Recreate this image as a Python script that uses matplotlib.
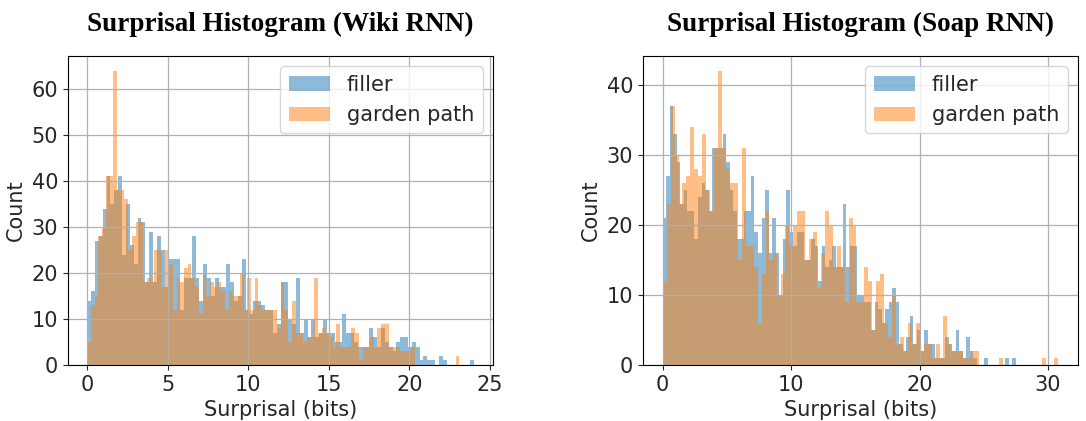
import numpy as np
import matplotlib
matplotlib.use("Agg")
import matplotlib.pyplot as plt

# bin counts (100 bins each, range 0..max)
wiki_filler_max = 24.0
wiki_filler = [
    14, 16, 27, 28, 34, 41, 35, 38, 41, 24,
    35, 26, 22, 32, 31, 18, 29, 18, 28, 25,
    17, 23, 23, 23, 12, 19, 19, 28, 19, 14,
    22, 19, 15, 19, 17, 17, 22, 18, 14, 15,
    23, 12, 11, 14, 14, 13, 12, 12, 7, 9,
    18, 18, 10, 9, 19, 7, 10, 6, 10, 6,
    7, 10, 7, 7, 5, 5, 11, 7, 7, 5,
    4, 4, 4, 8, 6, 4, 8, 5, 4, 3,
    5, 6, 6, 4, 5, 4, 1, 2, 1, 1,
    0, 2, 1, 0, 0, 0, 0, 0, 0, 1,
]
wiki_garden_max = 23.1
wiki_garden = [
    5, 13, 15, 28, 30, 41, 41, 64, 38, 38,
    36, 25, 28, 31, 31, 18, 19, 18, 25, 25,
    17, 25, 22, 12, 19, 18, 21, 22, 19, 17,
    11, 20, 15, 18, 17, 18, 16, 12, 16, 15,
    15, 20, 12, 19, 12, 19, 13, 12, 12, 12,
    12, 8, 18, 12, 5, 14, 7, 7, 5, 6,
    6, 19, 7, 8, 7, 6, 4, 9, 4, 4,
    4, 8, 7, 1, 4, 4, 6, 4, 8, 9,
    9, 4, 4, 4, 3, 3, 3, 4, 0, 0,
    0, 0, 0, 0, 0, 0, 0, 0, 0, 2,
]
soap_filler_max = 27.5
soap_filler = [
    21, 27, 37, 33, 29, 23, 25, 22, 22, 18,
    24, 26, 25, 22, 31, 31, 31, 33, 29, 25,
    22, 18, 18, 22, 22, 27, 19, 16, 21, 25,
    16, 21, 16, 10, 18, 25, 19, 17, 19, 19,
    15, 15, 18, 17, 12, 17, 14, 15, 17, 14,
    14, 23, 14, 17, 17, 10, 10, 9, 9, 5,
    9, 8, 6, 8, 9, 11, 9, 3, 2, 4,
    7, 3, 5, 2, 5, 3, 3, 1, 1, 1,
    4, 3, 2, 5, 2, 1, 4, 2, 1, 0,
    0, 1, 0, 0, 0, 0, 0, 1, 0, 1,
]
soap_garden_max = 30.8
soap_garden = [
    12, 23, 37, 30, 23, 26, 27, 34, 28, 27,
    33, 25, 22, 31, 42, 31, 28, 26, 26, 15,
    31, 17, 17, 14, 6, 13, 22, 15, 16, 10,
    13, 20, 17, 20, 22, 22, 15, 18, 19, 11,
    16, 22, 20, 14, 17, 14, 9, 21, 20, 9,
    9, 14, 12, 5, 12, 13, 6, 4, 10, 3,
    4, 2, 6, 3, 6, 2, 3, 3, 1, 3,
    1, 7, 3, 2, 2, 2, 1, 1, 2, 2,
    0, 0, 0, 0, 0, 1, 0, 0, 0, 0,
    0, 0, 0, 0, 0, 0, 1, 0, 0, 1,
]

titles = ["Surprisal Histogram (Wiki RNN)", "Surprisal Histogram (Soap RNN)"]
labels = ["filler", "garden path"]

plt.rcParams["text.color"] = "#262626"
plt.rcParams["axes.labelcolor"] = "#262626"
plt.rcParams["xtick.color"] = "#262626"
plt.rcParams["ytick.color"] = "#262626"
plt.rcParams["font.size"] = 15

fig = plt.figure(figsize=(10.86, 4.21), dpi=100)
ax1 = fig.add_axes([0.0626, 0.133, 0.3914, 0.734])
ax2 = fig.add_axes([0.592, 0.133, 0.4006, 0.734])

panels = [
    (ax1, [(wiki_filler, wiki_filler_max), (wiki_garden, wiki_garden_max)]),
    (ax2, [(soap_filler, soap_filler_max), (soap_garden, soap_garden_max)]),
]

for (ax, series), title in zip(panels, titles):
    for (counts, top), lab in zip(series, labels):
        edges = np.linspace(0, top, len(counts) + 1)
        ax.hist(edges[:-1], bins=edges, weights=counts, alpha=0.5, label=lab)
    ax.grid(True, color="#b0b0b0", linewidth=0.9)
    ax.set_xlabel("Surprisal (bits)", fontsize=15)
    ax.set_ylabel("Count", fontsize=15)
    ax.tick_params(labelsize=15)
    ax.legend(loc="upper right", fontsize=15)
    ax.set_title(title, family="Liberation Serif", fontweight="bold",
                 fontsize=19.5, pad=18, color="black")

fig.savefig("out.png", dpi=100)
